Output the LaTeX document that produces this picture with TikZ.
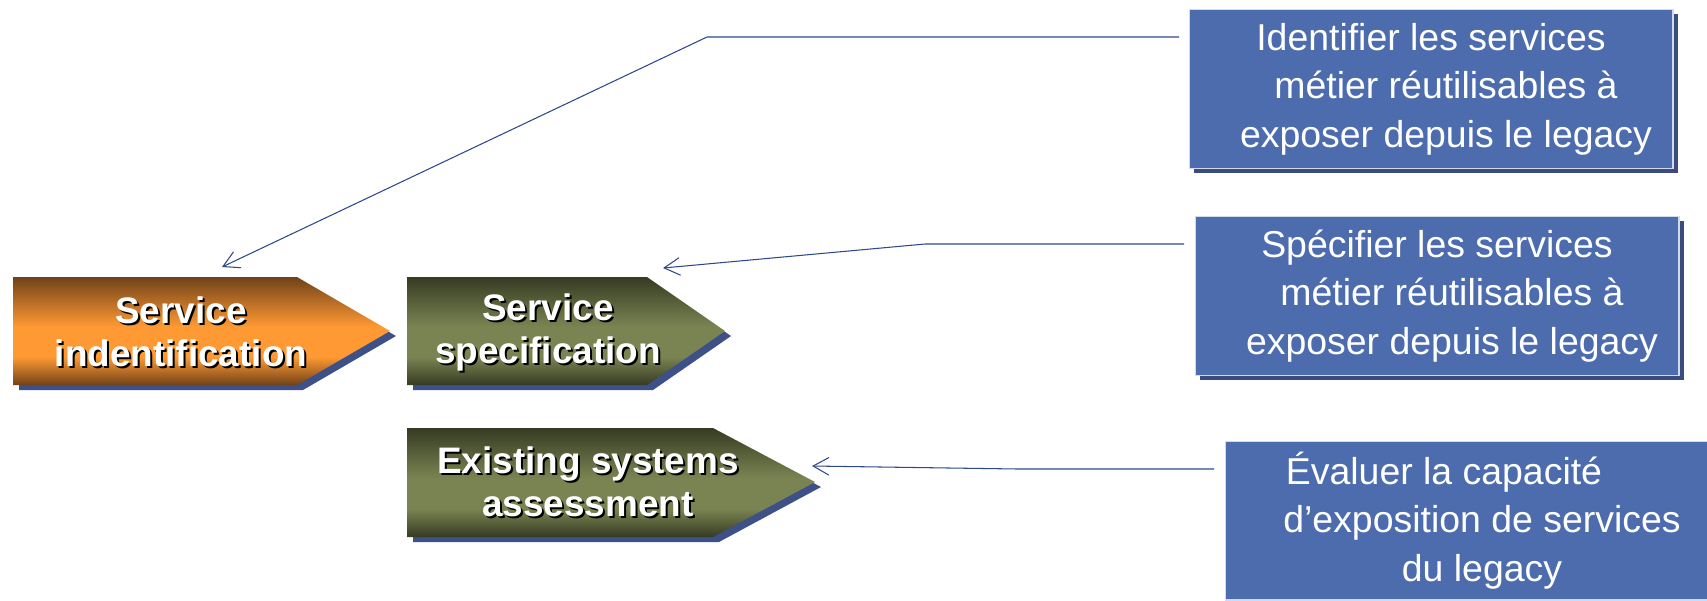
\documentclass[tikz,border=0pt]{standalone}
\usepackage{fontspec}
\setmainfont{Liberation Sans}
\usetikzlibrary{arrows.meta}
\definecolor{boxblue}{RGB}{77,108,174}
\definecolor{boxshade}{RGB}{58,76,128}
\definecolor{tabshade}{RGB}{62,80,136}
\definecolor{linkblue}{RGB}{46,72,138}
\definecolor{orgdark}{RGB}{112,66,24}
\definecolor{orglight}{RGB}{255,153,51}
\definecolor{olvdark}{RGB}{54,59,34}
\definecolor{olvlight}{RGB}{122,132,82}
\pgfdeclareverticalshading{orgfade}{100bp}{color(0bp)=(orgdark); color(25bp)=(orgdark); color(38bp)=(orglight); color(52bp)=(orglight); color(75bp)=(orgdark); color(100bp)=(orgdark)}
\pgfdeclareverticalshading{olvfade}{100bp}{color(0bp)=(olvdark); color(25bp)=(olvdark); color(38bp)=(olvlight); color(52bp)=(olvlight); color(75bp)=(olvdark); color(100bp)=(olvdark)}
\tikzset{
  tabtext/.style={text=white, font=\fontsize{21}{24.5}\selectfont\bfseries, align=center, inner sep=0pt},
  tabdrop/.style={tabtext, text=black},
  note/.style={fill=boxblue, draw=white!75!boxblue, line width=0.6pt, text=white,
    font=\fontsize{21.3}{27.5}\selectfont, align=center,
    minimum width=9.68cm, minimum height=3.18cm, inner sep=0pt},
  link/.style={draw=linkblue, line width=0.6pt, -{Straight Barb[length=9pt,width=10pt]}},
}

\begin{document}
\begin{tikzpicture}[x=0.02cm, y=-0.02cm]
		\useasboundingbox (0,0) rectangle (1707,600);

		\fill[tabshade] (19,282) -- (303,282) -- (396,336) -- (303,390) -- (19,390) -- cycle;
		\shade[shading=orgfade] (13,277) -- (297,277) -- (390,331) -- (297,385) -- (13,385) -- cycle;
		\fill[tabshade] (413,282) -- (653,282) -- (731,336) -- (653,390) -- (413,390) -- cycle;
		\shade[shading=olvfade] (407,277) -- (647,277) -- (725,331) -- (647,385) -- (407,385) -- cycle;
		\fill[tabshade] (413,433) -- (719,433) -- (821,487) -- (719,542) -- (413,542) -- cycle;
		\shade[shading=olvfade] (407,428) -- (713,428) -- (815,482) -- (713,537) -- (407,537) -- cycle;

		\node[tabdrop] at (183,334) {Service\\indentification};
		\node[tabtext] (ident) at (181,332) {Service\\indentification};
		\node[tabdrop] at (550,334) {Service\\specification};
		\node[tabtext] (spec) at (548,332) {Service\\specification};
		\node[tabdrop] at (590,484) {Existing systems\\assessment};
		\node[tabtext] (assess) at (588,482) {Existing systems\\assessment};

		\fill[boxshade] (1194,14) rectangle (1678,173);
		\fill[boxshade] (1200,221) rectangle (1684,380);
		\node[note] (bident) at (1431,89) {Identifier les services\\\hspace*{0.6cm}métier réutilisables à\\\hspace*{0.6cm}exposer depuis le legacy};
		\node[note] (bspec) at (1437,296) {Spécifier les services\\\hspace*{0.6cm}métier réutilisables à\\\hspace*{0.6cm}exposer depuis le legacy};
		\node[note] (bassess) at (1467,520.5) {Évaluer la capacité\hspace*{0.92cm}\\\hspace*{0.6cm}d’exposition de services\\\hspace*{0.6cm}du legacy};

		\coordinate (s1) at (1179,37);
		\coordinate (k1) at (707,37);
		\coordinate (t1) at (222,267);
		\coordinate (s2) at (1184,244);
		\coordinate (k2) at (925,244);
		\coordinate (t2) at (663,268);
		\coordinate (s3) at (1214,469);
		\coordinate (k3) at (1018,469);
		\coordinate (t3) at (812,466);
		\draw[link] (s1) -- (k1) -- (t1);
		\draw[link] (s2) -- (k2) -- (t2);
		\draw[link] (s3) -- (k3) -- (t3);
\end{tikzpicture}
\end{document}
